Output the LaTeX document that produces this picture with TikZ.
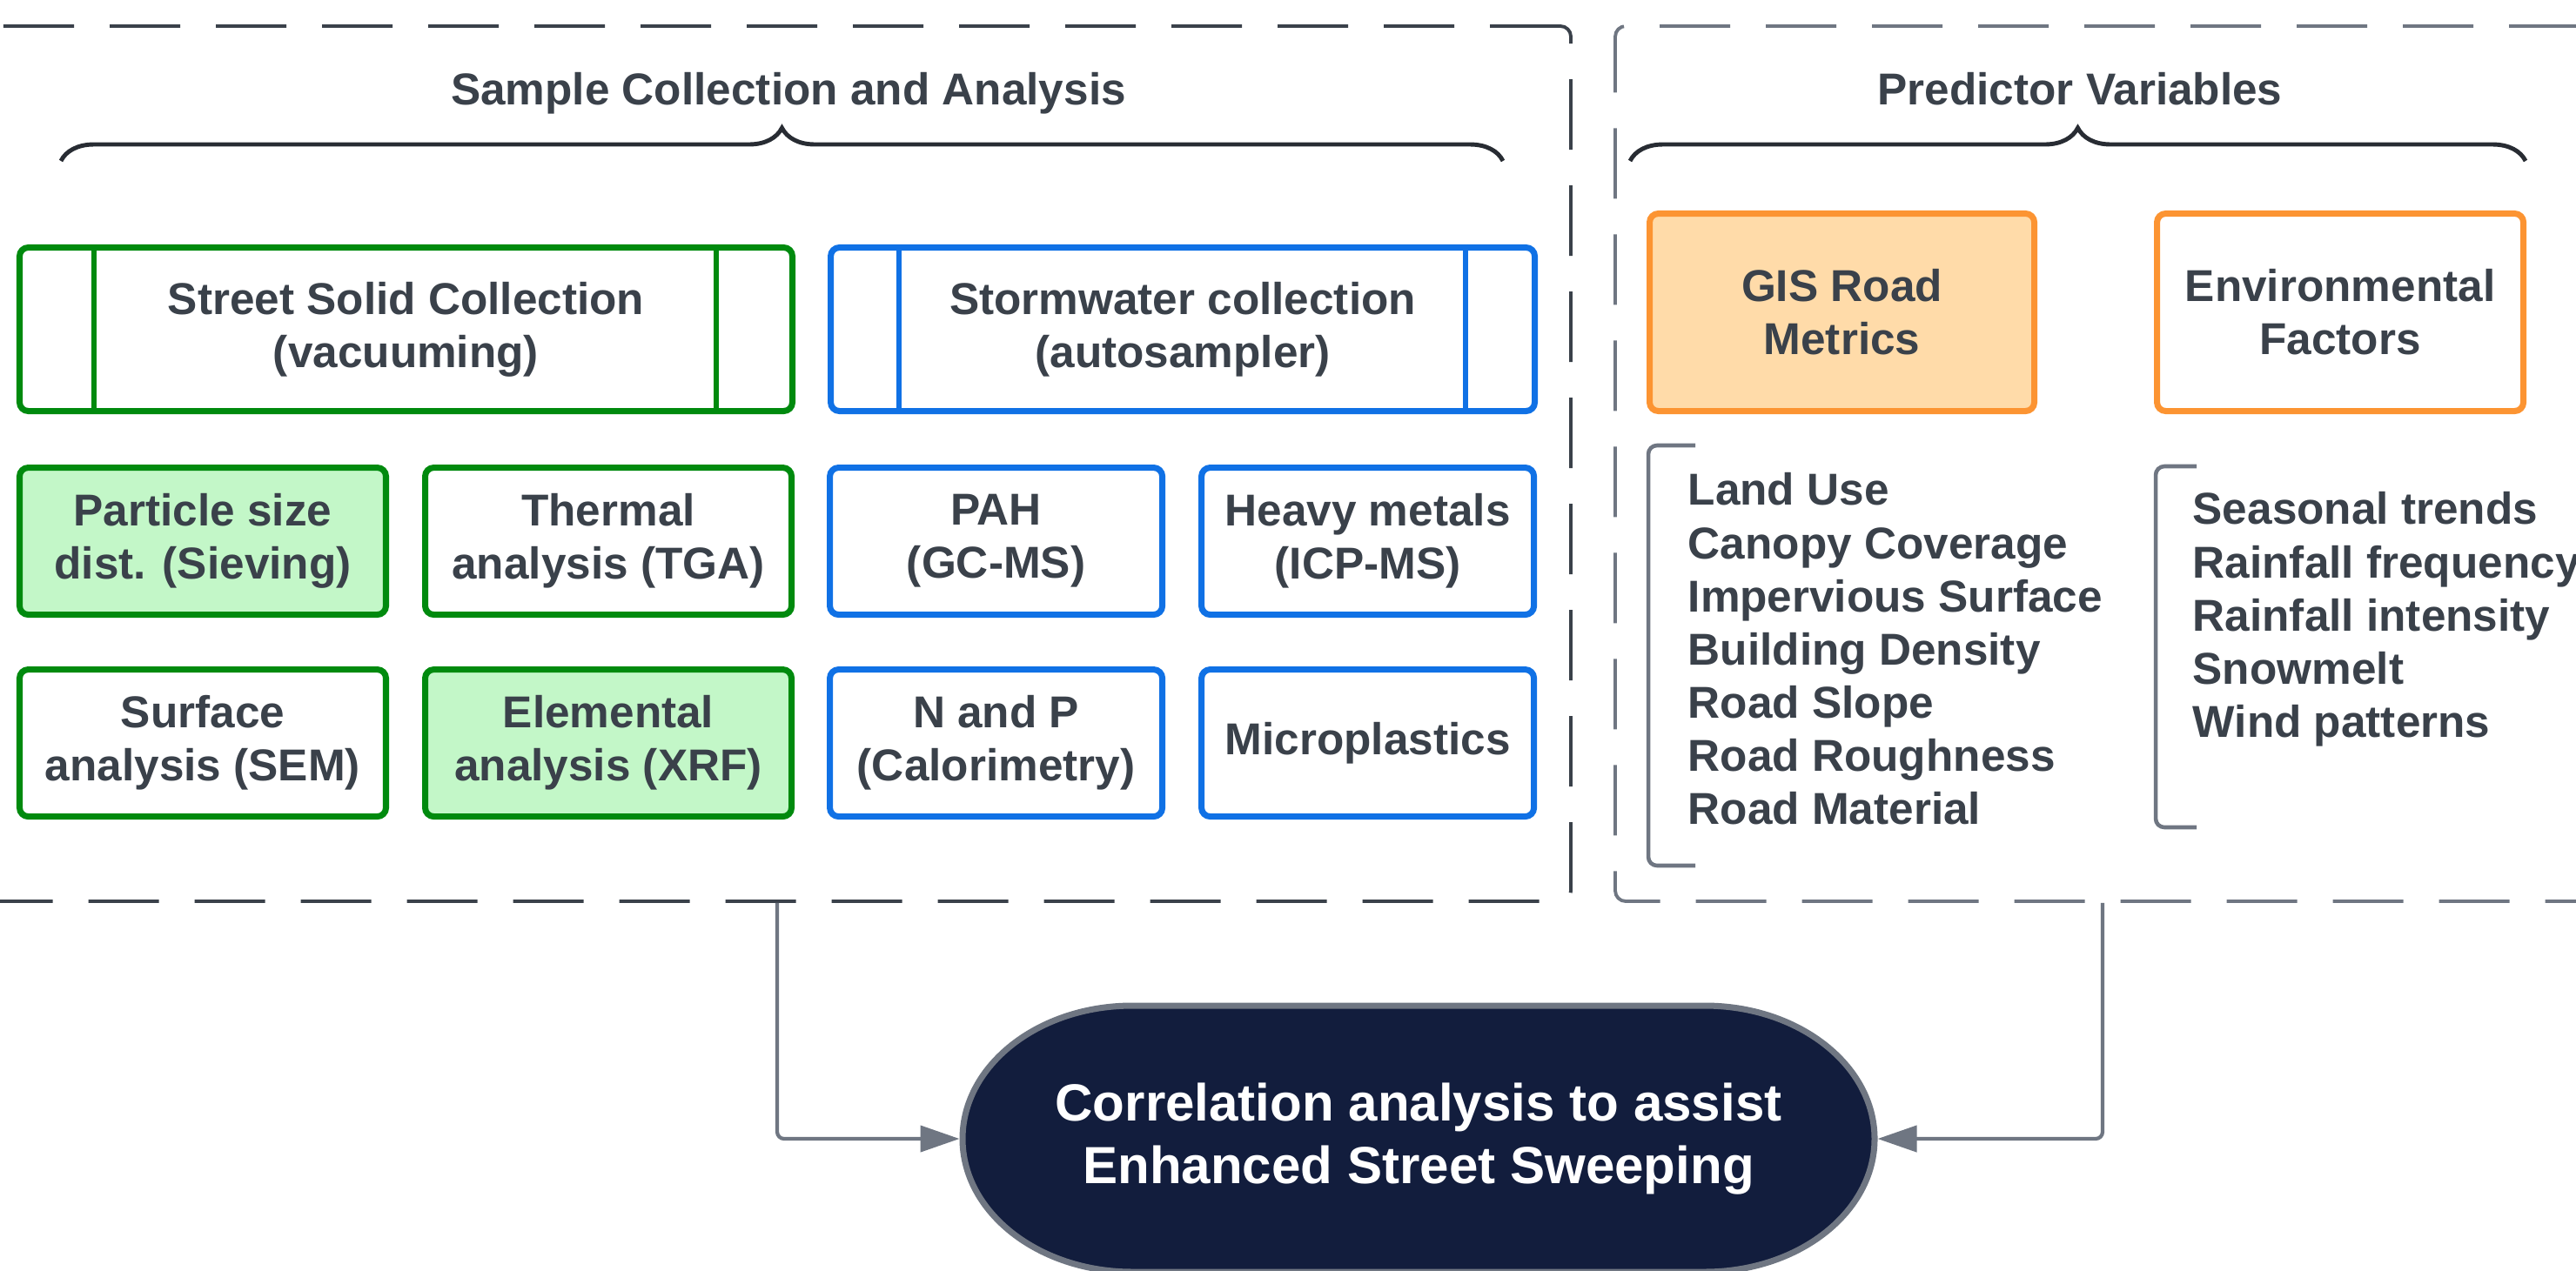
\documentclass[tikz,border=0pt]{standalone}
\usepackage{fontspec}
\setmainfont{Liberation Sans}
\usepackage{tikz}
\usetikzlibrary{positioning}
\usetikzlibrary{arrows.meta}
\usetikzlibrary{decorations.pathreplacing}

\definecolor{txtgray}{HTML}{3A414A}
\definecolor{linegray}{HTML}{6F7682}
\definecolor{bracegray}{HTML}{282C33}
\definecolor{lgreen}{HTML}{008A0E}
\definecolor{lgreenfill}{HTML}{C3F7C8}
\definecolor{lblue}{HTML}{1071E5}
\definecolor{lorange}{HTML}{FC9432}
\definecolor{lorangefill}{HTML}{FFDBA9}
\definecolor{navy}{HTML}{121D3D}

\begin{document}
\begin{tikzpicture}[
font=\fontsize{14.6}{17.4}\selectfont\bfseries,
dashgroup/.style={rectangle, dash pattern=on 0.81cm off 0.41cm, line width=1.1pt, rounded corners=0.12cm, minimum height=10.06cm, inner sep=0},
greenbox/.style={rectangle, draw=lgreen, line width=2pt, rounded corners=0.1cm, minimum width=4.21cm, minimum height=1.69cm, align=center, text=txtgray},
bluebox/.style={greenbox, draw=lblue, minimum width=3.82cm},
orangebox/.style={greenbox, draw=lorange, minimum width=4.21cm, minimum height=2.27cm},
heading/.style={text=txtgray, anchor=base},
bigbrace/.style={decorate, decoration={brace, amplitude=0.38cm}, draw=bracegray, line width=1.4pt},
listtext/.style={text=txtgray, anchor=north west, align=left, inner sep=0},
listbracket/.style={draw=linegray, line width=1.3pt, rounded corners=0.1cm},
conn/.style={draw=linegray, line width=1.2pt, rounded corners=0.08cm, -{Triangle[length=0.45cm, width=0.3cm]}},
]
\useasboundingbox (0,0) rectangle (29.6,-14.6);

% the two dashed groups
\node[dashgroup, draw=txtgray, minimum width=18.24cm] (samplegrp) at (8.93,-5.33) {};
\node[dashgroup, draw=linegray, minimum width=11.2cm] (predgrp) at (24.16,-5.33) {};

\node[heading] (sampletitle) at (9.06,-1.20) {Sample Collection and Analysis};
\node[heading] (predtitle) at (23.90,-1.20) {Predictor Variables};
\draw[bigbrace] (0.70,-1.85) -- (17.27,-1.85);
\draw[bigbrace] (18.73,-1.85) -- (29.02,-1.85);

\node[greenbox, minimum width=8.88cm, minimum height=1.88cm] (street) at (4.665,-3.785) {Street Solid Collection\\(vacuuming)};
\node[bluebox, minimum width=8.09cm, minimum height=1.88cm] (storm) [right=0.37cm of street] {Stormwater collection\\(autosampler)};
\draw[lgreen, line width=1.6pt] ([xshift=0.89cm]street.north west) -- ([xshift=0.89cm]street.south west);
\draw[lgreen, line width=1.6pt] ([xshift=-0.91cm]street.north east) -- ([xshift=-0.91cm]street.south east);
\draw[lblue, line width=1.6pt] ([xshift=0.82cm]storm.north west) -- ([xshift=0.82cm]storm.south west);
\draw[lblue, line width=1.6pt] ([xshift=-0.83cm]storm.north east) -- ([xshift=-0.83cm]storm.south east);

\node[greenbox, fill=lgreenfill] (psd) [below right=0.58cm and 0cm of street.south west] {Particle size\\dist. (Sieving)};
\node[greenbox] (tga) [right=0.38cm of psd] {Thermal\\analysis (TGA)};
\node[bluebox] (pah) [right=0.37cm of tga] {PAH\\(GC-MS)};
\node[bluebox] (metals) [right=0.38cm of pah] {Heavy metals\\(ICP-MS)};

\node[greenbox] (sem) [below=0.56cm of psd] {Surface\\analysis (SEM)};
\node[greenbox, fill=lgreenfill] (xrf) [below=0.56cm of tga] {Elemental\\analysis (XRF)};
\node[bluebox] (np) [below=0.56cm of pah] {N and P\\(Calorimetry)};
\node[bluebox] (plastics) [below=0.56cm of metals] {Microplastics};

\node[orangebox, fill=lorangefill, minimum width=4.42cm] (gis) at (21.165,-3.59) {GIS Road\\Metrics};
\node[orangebox] (envf) [right=1.34cm of gis] {Environmental\\Factors};

\node[listtext] (roadlist) at (19.39,-5.43) {Land Use\\Canopy Coverage\\Impervious Surface\\Building Density\\Road Slope\\Road Roughness\\Road Material};
\node[listtext] (envlist) at (25.19,-5.65) {Seasonal trends\\Rainfall frequency\\Rainfall intensity\\Snowmelt\\Wind patterns};
\draw[listbracket] (19.48,-5.12) -- (18.94,-5.12) -- (18.94,-9.95) -- (19.48,-9.95);
\draw[listbracket] (25.24,-5.36) -- (24.77,-5.36) -- (24.77,-9.51) -- (25.24,-9.51);

% result shape with elliptic corners
\coordinate (corrc) at (16.30,-13.09);
\filldraw[fill=navy, draw=linegray, line width=2pt] ([xshift=-5.24cm]corrc)
  arc[start angle=180, end angle=90, x radius=1.95cm, y radius=1.53cm] -- ++(6.58,0)
  arc[start angle=90, end angle=-90, x radius=1.95cm, y radius=1.53cm] -- ++(-6.58,0)
  arc[start angle=-90, end angle=-180, x radius=1.95cm, y radius=1.53cm] -- cycle;
\node[text=white, align=center, inner sep=0, outer sep=0, minimum width=10.55cm, minimum height=3.1cm, font=\fontsize{17.1}{20.4}\selectfont\bfseries] (corr) at (corrc) {Correlation analysis to assist\\Enhanced Street Sweeping};

\draw[conn] (samplegrp.south) |- (corr.west);
\draw[conn] (predgrp.south) |- (corr.east);
\end{tikzpicture}
\end{document}
